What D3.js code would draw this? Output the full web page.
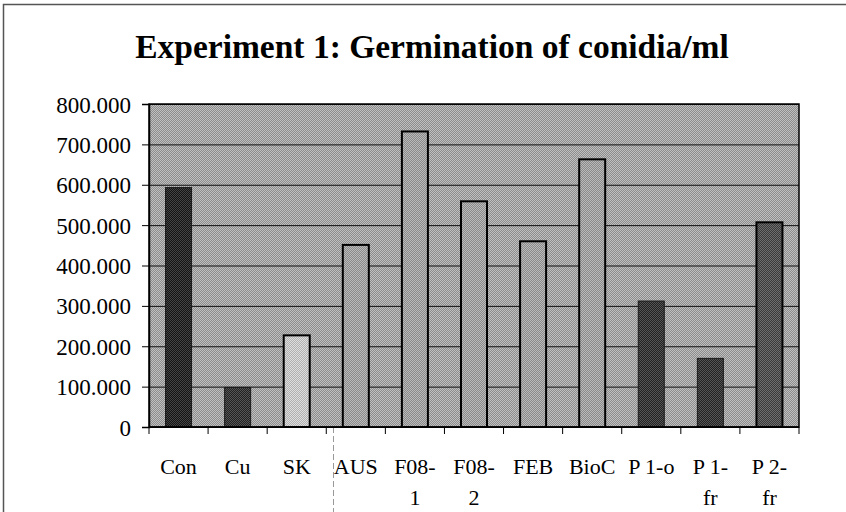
<!DOCTYPE html>
<html>
<head>
<meta charset="utf-8">
<script src="https://cdn.jsdelivr.net/npm/d3@7"></script>
<style>
  body { margin: 0; background: #fff; }
  text { font-family: "Liberation Serif", "Times New Roman", serif; fill: #000; }
</style>
</head>
<body>
<div id="chart"></div>
<script>
// Chart dimensions
const width = 846;
const height = 512;
const margin = { top: 104, right: 47, bottom: 85, left: 149 };

// Data
const categories = ["Con", "Cu", "SK", "AUS", "F08-1", "F08-2", "FEB", "BioC", "P 1-o", "P 1-fr", "P 2-fr"];
const labelLines = [["Con"], ["Cu"], ["SK"], ["AUS"], ["F08-", "1"], ["F08-", "2"], ["FEB"], ["BioC"], ["P 1-o"], ["P 1-", "fr"], ["P 2-", "fr"]];
const values = [593000, 98000, 227000, 451000, 732000, 559000, 460000, 663000, 312000, 170000, 507000];
const yTicks = [0, 100000, 200000, 300000, 400000, 500000, 600000, 700000, 800000];

// Fill tones (two-tone dither per bar)
const tones = {
    bg:    ["#8c8c8c", "#c0c0c0"],
    dark1: ["#141414", "#444444"],
    dark2: ["#222222", "#555555"],
    light: ["#b0b0b0", "#dedede"],
    mid:   ["#8a8a8a", "#bababa"],
    dark3: ["#3a3a3a", "#6e6e6e"]
};
const barTone = ["dark1", "dark2", "light", "mid", "mid", "mid", "mid", "mid", "dark2", "dark2", "dark3"];
const outlined = [false, false, true, true, true, true, true, true, false, false, true];

const locale = d3.formatLocale({ decimal: ",", thousands: ".", grouping: [3], currency: ["", ""] });
const fmt = locale.format(",");

const svg = d3.select("#chart")
    .append("svg")
    .attr("width", width)
    .attr("height", height);

// checker patterns to mimic the scanned dither
const defs = svg.append("defs");
Object.entries(tones).forEach(([k, c]) => {
    const p = defs.append("pattern")
        .attr("id", "pat-" + k)
        .attr("width", 2).attr("height", 2)
        .attr("patternUnits", "userSpaceOnUse");
    p.append("rect").attr("width", 2).attr("height", 2).attr("fill", c[0]);
    p.append("rect").attr("width", 1).attr("height", 1).attr("fill", c[1]);
    p.append("rect").attr("x", 1).attr("y", 1).attr("width", 1).attr("height", 1).attr("fill", c[1]);
});

// outer frame
svg.append("path")
    .attr("d", `M3.5,${height} V4.5 H${width}`)
    .attr("fill", "none")
    .attr("stroke", "#555")
    .attr("stroke-width", 1.5);

// faint scan line below the axis
svg.append("line")
    .attr("x1", 333.5).attr("x2", 333.5)
    .attr("y1", height - margin.bottom).attr("y2", height)
    .attr("stroke", "#999")
    .attr("stroke-dasharray", "6,3");

// Title
svg.append("text")
    .attr("x", 432)
    .attr("y", 58)
    .attr("text-anchor", "middle")
    .style("font-size", "33.5px")
    .style("font-weight", "bold")
    .text("Experiment 1: Germination of conidia/ml");

// Scales
const xScale = d3.scaleBand()
    .domain(categories)
    .range([margin.left, width - margin.right])
    .paddingInner(0.56)
    .paddingOuter(0.28);

const yScale = d3.scaleLinear()
    .domain([0, 800000])
    .range([height - margin.bottom, margin.top]);

// Plot background
svg.append("rect")
    .attr("x", margin.left)
    .attr("y", margin.top)
    .attr("width", width - margin.right - margin.left)
    .attr("height", height - margin.bottom - margin.top)
    .attr("fill", "url(#pat-bg)");

// Grid lines
svg.append("g")
    .attr("transform", `translate(${margin.left}, 0)`)
    .call(d3.axisLeft(yScale)
        .tickValues(yTicks)
        .tickSize(-(width - margin.right - margin.left))
        .tickFormat(""))
    .call(g => g.select(".domain").remove())
    .call(g => g.selectAll("line").attr("stroke", "#111").attr("stroke-width", 1));

// Bars
svg.selectAll(".bar")
    .data(values)
    .enter()
    .append("rect")
    .attr("class", "bar")
    .attr("x", (d, i) => xScale(categories[i]))
    .attr("y", d => yScale(d))
    .attr("width", xScale.bandwidth())
    .attr("height", d => yScale(0) - yScale(d))
    .attr("fill", (d, i) => `url(#pat-${barTone[i]})`)
    .attr("stroke", (d, i) => outlined[i] ? "#000" : "#1a1a1a")
    .attr("stroke-width", (d, i) => outlined[i] ? 2 : 1);

// Plot border
svg.append("rect")
    .attr("x", margin.left)
    .attr("y", margin.top)
    .attr("width", width - margin.right - margin.left)
    .attr("height", height - margin.bottom - margin.top)
    .attr("fill", "none")
    .attr("stroke", "#000")
    .attr("stroke-width", 1.5);

// Y axis
svg.append("g")
    .attr("transform", `translate(${margin.left}, 0)`)
    .call(d3.axisLeft(yScale)
        .tickValues(yTicks)
        .tickSize(7)
        .tickPadding(11)
        .tickFormat(d => fmt(d)))
    .call(g => g.select(".domain").attr("stroke-width", 1.5))
    .call(g => g.selectAll("text")
        .style("font-size", "23px")
        .style("font-family", "'Liberation Serif', serif")
        .attr("dy", "0.35em"));

// X axis: ticks at category boundaries
const step = xScale.step();
const bounds = d3.range(categories.length + 1).map(i => margin.left + i * step);
const xAxisG = svg.append("g")
    .attr("transform", `translate(0, ${height - margin.bottom})`);
xAxisG.append("line")
    .attr("x1", margin.left).attr("x2", width - margin.right)
    .attr("stroke", "#000").attr("stroke-width", 1.5);
xAxisG.selectAll(".xtick")
    .data(bounds)
    .enter()
    .append("line")
    .attr("class", "xtick")
    .attr("x1", d => d).attr("x2", d => d)
    .attr("y1", 0).attr("y2", 7)
    .attr("stroke", "#000");

// Category labels
const labels = xAxisG.selectAll(".xlabel")
    .data(categories)
    .enter()
    .append("text")
    .attr("class", "xlabel")
    .attr("x", d => xScale(d) + xScale.bandwidth() / 2)
    .attr("y", 47)
    .attr("text-anchor", "middle")
    .style("font-size", "22px");
labels.selectAll("tspan")
    .data((d, i) => labelLines[i])
    .enter()
    .append("tspan")
    .attr("x", function () { return d3.select(this.parentNode).attr("x"); })
    .attr("dy", (d, j) => j === 0 ? 0 : 31)
    .text(d => d);
</script>
</body>
</html>
